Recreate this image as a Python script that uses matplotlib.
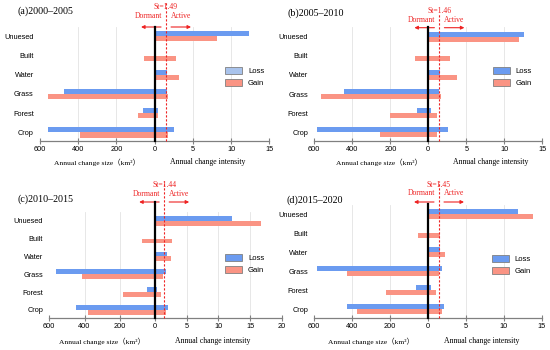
import matplotlib.pyplot as plt
from matplotlib.patches import Patch
from matplotlib.transforms import blended_transform_factory, offset_copy

plt.rcParams["font.family"] = ["Liberation Sans", "DejaVu Sans"]
SERIF = ["Liberation Serif", "Noto Sans CJK SC", "DejaVu Serif"]

categories = ["Crop", "Forest", "Grass", "Water", "Built", "Unuesed"]
titles = ["(a)2000–2005", "(b)2005–2010", "(c)2010–2015", "(d)2015–2020"]
st_values = [1.49, 1.46, 1.44, 1.45]

# annual change size (km2) -> left half, annual change intensity -> right half
loss_size_a = [560, 61, 474, 0, 0, 0]
loss_int_a = [2.5, 0.4, 1.6, 1.6, 0, 12.4]
gain_size_a = [390, 86, 560, 3, 58, 0]
gain_int_a = [1.7, 0.5, 1.8, 3.2, 2.8, 8.2]

loss_size_b = [586, 59, 442, 0, 0, 0]
loss_int_b = [2.6, 0.3, 1.4, 1.5, 0, 12.6]
gain_size_b = [253, 199, 563, 0, 71, 0]
gain_int_b = [1.2, 1.1, 1.7, 3.8, 2.9, 11.9]

loss_size_c = [449, 47, 562, 0, 0, 0]
loss_int_c = [2.1, 0.3, 1.7, 1.9, 0, 12.1]
gain_size_c = [383, 184, 417, 0, 76, 0]
gain_int_c = [1.8, 0.9, 1.3, 2.5, 2.6, 16.7]

loss_size_d = [430, 63, 584, 0, 0, 0]
loss_int_d = [2.1, 0.4, 1.8, 1.6, 0, 11.9]
gain_size_d = [373, 224, 430, 0, 51, 0]
gain_int_d = [1.85, 1.1, 1.4, 2.3, 1.6, 13.8]

size_ticks = [600, 400, 200]
int_ticks_abd = [0, 5, 10, 15]
int_ticks_c = [0, 5, 10, 15, 20]

panels = [
    (loss_size_a, loss_int_a, gain_size_a, gain_int_a, int_ticks_abd, 40.0),
    (loss_size_b, loss_int_b, gain_size_b, gain_int_b, int_ticks_abd, 40.0),
    (loss_size_c, loss_int_c, gain_size_c, gain_int_c, int_ticks_c, 600 / 16.7),
    (loss_size_d, loss_int_d, gain_size_d, gain_int_d, int_ticks_abd, 40.0),
]

# layout in pixels
x_extent = [(40, 269.3), (314.3, 542.3), (49.3, 281.7), (314.3, 541.7)]
y_rows = [(36.3, 132.4), (36.7, 132.3), (220.7, 310), (214.3, 309.3)]
black_top = [27, 27, 202, 204]
dash_top = [2, 14, 181, 181]
st_y = [7.3, 10.7, 184.7, 184.7]
dorm_y = [16, 20, 194, 193]
arrow_y = [27, 27.7, 202, 202]
title_xy = [(17, 11), (287.3, 12.7), (17.3, 199), (286.7, 200)]
xlabel_left = [(97, 162), (378.5, 162), (102, 341), (371.5, 341)]
xlabel_right = [(208, 162), (491, 162), (212.5, 341), (482, 341)]
legend_xy = [(225, 67), (492.7, 67), (225, 254), (491.7, 255)]

W, H = 550, 350
BLUE = "#6b9bf0"
SALMON = "#fa9484"
RED = "#ee2222"

fig = plt.figure(figsize=(5.5, 3.5), dpi=100)

for k, (ls, li, gs, gi, iticks, scale) in enumerate(panels):
    l, r = x_extent[k]
    yu, yc = y_rows[k]
    ppu = (yc - yu) / 5
    b = yc + 0.47 * ppu
    t = yu - 0.5 * ppu
    ax = fig.add_axes([l / W, 1 - b / H, (r - l) / W, (b - t) / H])
    xmin = -size_ticks[0] / scale
    ax.set_xlim(xmin, iticks[-1])
    ax.set_ylim(-0.47, 5.5)

    pos = list(range(len(categories)))
    ax.barh([p + 0.135 for p in pos], [-v / scale for v in ls], height=0.27, color=BLUE, zorder=2)
    ax.barh([p + 0.135 for p in pos], li, height=0.27, color=BLUE, zorder=2)
    ax.barh([p - 0.135 for p in pos], [-v / scale for v in gs], height=0.27, color=SALMON, zorder=2)
    ax.barh([p - 0.135 for p in pos], gi, height=0.27, color=SALMON, zorder=2)

    tick_pos = [-s / scale for s in size_ticks] + iticks
    tick_lab = [str(s) for s in size_ticks] + [str(v) for v in iticks]
    ax.set_xticks(tick_pos)
    ax.set_xticklabels(tick_lab)
    for xp in tick_pos:
        if xp != 0 and xp != xmin and xp != iticks[-1]:
            ax.axvline(xp, color="#e3e3e3", lw=0.6, zorder=0)

    ax.set_yticks(pos)
    ax.set_yticklabels(categories)
    for side in ["top", "right", "left"]:
        ax.spines[side].set_visible(False)
    ax.spines["bottom"].set_color("#808080")
    ax.spines["bottom"].set_linewidth(0.9)
    ax.tick_params(axis="x", direction="inout", length=4, width=0.8, color="#808080",
                   labelsize=5.3, pad=1.5)
    ax.tick_params(axis="y", length=0, labelsize=5.3, pad=4.5)

    trans = blended_transform_factory(ax.transData, fig.transFigure)
    st = st_values[k]
    ax.plot([0, 0], [1 - b / H, 1 - black_top[k] / H], transform=trans, color="black",
            lw=1.6, clip_on=False, zorder=4)
    ax.plot([st, st], [1 - b / H, 1 - dash_top[k] / H], transform=trans, color=RED,
            lw=0.8, ls=(0, (2, 1.6)), clip_on=False, zorder=5)

    fig.text(st, 1 - st_y[k] / H, "St=%.2f" % st, transform=trans, color=RED,
             family=SERIF, fontsize=5.5, ha="center", va="center")
    fig.text(st, 1 - dorm_y[k] / H, "Dormant",
             transform=offset_copy(trans, fig=fig, x=-4, units="dots"), color=RED,
             family=SERIF, fontsize=5.5, ha="right", va="center")
    fig.text(st, 1 - dorm_y[k] / H, "Active",
             transform=offset_copy(trans, fig=fig, x=5, units="dots"), color=RED,
             family=SERIF, fontsize=5.5, ha="left", va="center")
    ya = 1 - arrow_y[k] / H
    ax.annotate("", xy=(st, ya), xycoords=offset_copy(trans, fig=fig, x=-25, units="dots"),
                xytext=(st, ya), textcoords=offset_copy(trans, fig=fig, x=-5, units="dots"),
                arrowprops=dict(arrowstyle="-|>", color=RED, lw=0.8, mutation_scale=5,
                                shrinkA=0, shrinkB=0), annotation_clip=False)
    ax.annotate("", xy=(st, ya), xycoords=offset_copy(trans, fig=fig, x=25, units="dots"),
                xytext=(st, ya), textcoords=offset_copy(trans, fig=fig, x=5, units="dots"),
                arrowprops=dict(arrowstyle="-|>", color=RED, lw=0.8, mutation_scale=5,
                                shrinkA=0, shrinkB=0), annotation_clip=False)

    tx, ty = title_xy[k]
    fig.text(tx / W, 1 - ty / H, titles[k], family=SERIF, fontsize=7.2, ha="left", va="center")
    lx, lyy = xlabel_left[k]
    fig.text(lx / W, 1 - lyy / H, "Annual change size（km²）", family=SERIF, fontsize=5.4,
             ha="center", va="center")
    rx, ryy = xlabel_right[k]
    fig.text(rx / W, 1 - ryy / H, "Annual change intensity", family=SERIF, fontsize=5.6,
             ha="center", va="center")

    loss_face = "#a9c3ec" if k == 0 else BLUE
    handles = [Patch(facecolor=loss_face, edgecolor="#808080", lw=0.6, label="Loss"),
               Patch(facecolor=SALMON, edgecolor="#808080", lw=0.6, label="Gain")]
    gx, gy = legend_xy[k]
    fig.legend(handles=handles, loc="upper left", bbox_to_anchor=(gx / W, 1 - gy / H),
               frameon=False, fontsize=5.5, borderpad=0, borderaxespad=0,
               handlelength=2.2, handleheight=1.05, handletextpad=0.8, labelspacing=0.5)

fig.savefig("out.png", dpi=100)
